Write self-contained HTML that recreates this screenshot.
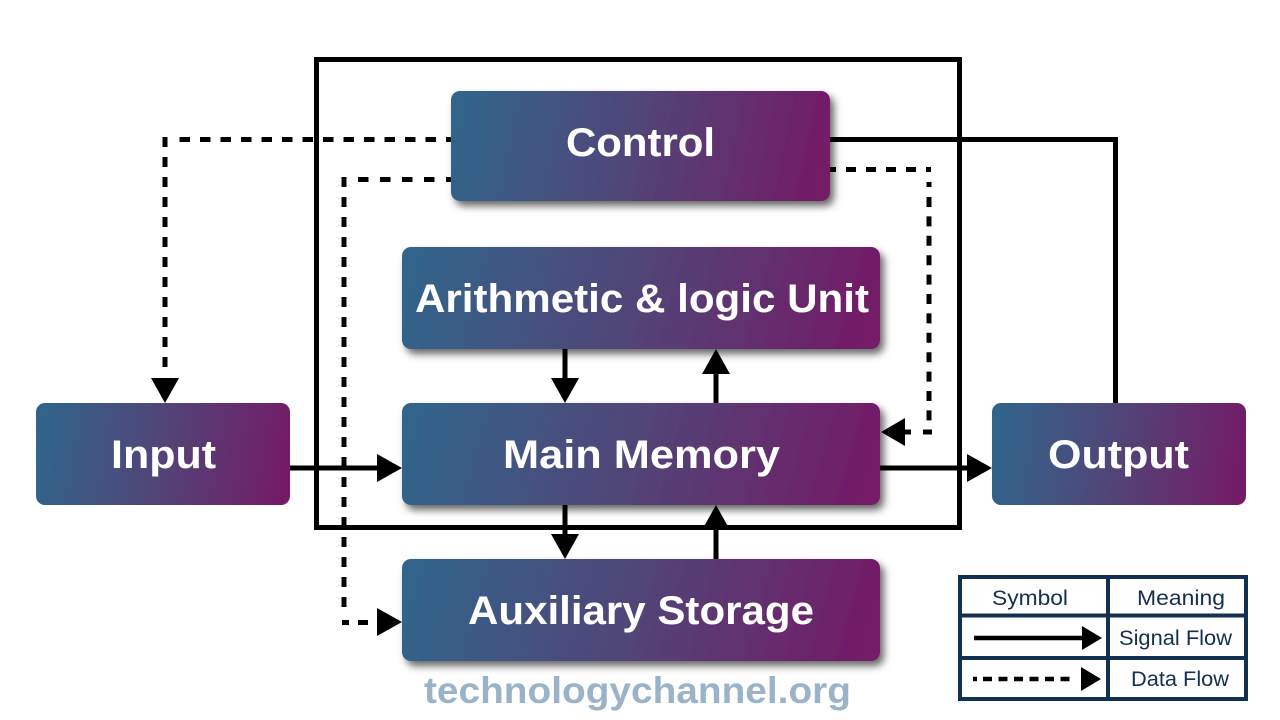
<!DOCTYPE html>
<html><head><meta charset="utf-8"><style>
html,body{margin:0;padding:0;background:#fff;width:1280px;height:720px;overflow:hidden}
svg{display:block}
.n{font-family:"Liberation Sans",sans-serif;font-weight:700;font-size:40px;fill:#fff}
.t{font-family:"Liberation Sans",sans-serif;font-size:21px;fill:#12304f;-webkit-text-stroke:.3px #12304f}
</style></head><body>
<svg xmlns="http://www.w3.org/2000/svg" width="1280" height="720" viewBox="0 0 1280 720">
<defs>
<linearGradient id="g" x1="0" y1="0.47" x2="1" y2="0.53"><stop offset="0" stop-color="#31648a"/><stop offset=".5" stop-color="#524477"/><stop offset="1" stop-color="#741a66"/></linearGradient>
<filter id="s" x="-10%" y="-20%" width="120%" height="145%"><feDropShadow dx="4" dy="5" stdDeviation="4" flood-color="#000" flood-opacity=".6"/></filter>
</defs>
<rect width="1280" height="720" fill="#fff"/>
<rect x="316.5" y="59.5" width="643" height="468" fill="none" stroke="#000" stroke-width="5"/>
<g filter="url(#s)">
<rect x="451" y="91" width="379" height="110" rx="9" fill="url(#g)"/>
<rect x="402" y="247" width="478" height="102" rx="9" fill="url(#g)"/>
<rect x="402" y="403" width="478" height="102" rx="9" fill="url(#g)"/>
<rect x="402" y="559" width="478" height="102" rx="9" fill="url(#g)"/>
</g>
<rect x="36" y="403" width="254" height="102" rx="9" fill="url(#g)"/>
<rect x="992" y="403" width="254" height="102" rx="9" fill="url(#g)"/>
<g fill="none" stroke="#000" stroke-width="5">
<path d="M830 139.5H1115.5V403"/>
<path d="M290 468H378M880 468H968M565 349V379M716 403V373M565 505V535M716 559V529"/>
<path stroke-dasharray="10.5 10" stroke-dashoffset="5.5" d="M451 139.5H178"/>
<path stroke-dasharray="10 10" d="M165 137V368"/>
<path stroke-dasharray="10.5 11.5" stroke-dashoffset="5.5" d="M451 179.5H358"/>
<path stroke-dasharray="10 10" d="M344 177V617"/>
<path d="M342 622.5H349M358 622.5H368"/>
<path d="M830 169.5H836M846 169.5H856M866 169.5H876M886 169.5H896M906 169.5H916M926 169.5H931"/>
<path d="M929 182V187"/>
<path stroke-dasharray="10 9.4" d="M929 197V421"/>
<path d="M923 432H932M903 432H911"/>
</g>
<g fill="#000">
<path d="M151 378H179L165 403Z"/>
<path d="M377 454V482L402 468Z"/>
<path d="M967 454V482L992 468Z"/>
<path d="M551 378H579L565 403Z"/>
<path d="M702 374H730L716 349Z"/>
<path d="M551 534H579L565 559Z"/>
<path d="M702 530H730L716 505Z"/>
<path d="M377 608V636L402 622Z"/>
<path d="M905 418V446L881 432Z"/>
</g>
<text class="n" x="566" y="156" textLength="149" lengthAdjust="spacingAndGlyphs">Control</text>
<text class="n" x="415" y="312" textLength="454" lengthAdjust="spacingAndGlyphs">Arithmetic &amp; logic Unit</text>
<text class="n" x="503" y="468" textLength="277" lengthAdjust="spacingAndGlyphs">Main Memory</text>
<text class="n" x="468" y="624" textLength="346" lengthAdjust="spacingAndGlyphs">Auxiliary Storage</text>
<text class="n" x="111" y="468" textLength="105" lengthAdjust="spacingAndGlyphs">Input</text>
<text class="n" x="1048" y="468" textLength="141" lengthAdjust="spacingAndGlyphs">Output</text>
<text x="424" y="703" textLength="427" lengthAdjust="spacingAndGlyphs" font-family="Liberation Sans, sans-serif" font-weight="700" font-size="37" fill="#9ab3c9">technologychannel.org</text>
<g fill="none" stroke="#12304f" stroke-width="4">
<rect x="960" y="577" width="286" height="122"/>
<path d="M1108 577V699M960 615.5H1246M960 658H1246"/>
</g>
<path d="M974 638H1084" stroke="#000" stroke-width="4.5" fill="none"/>
<path d="M1082 626V650L1102 638Z" fill="#000"/>
<path d="M973 679H1076" stroke="#000" stroke-width="4.5" stroke-dasharray="4 6 9 6.5 9 6.5 9 6.5 9 6.5 9 6.5 9 6.5" fill="none"/>
<path d="M1081 667V691L1101 679Z" fill="#000"/>
<text class="t" x="992" y="605" textLength="76" lengthAdjust="spacingAndGlyphs">Symbol</text>
<text class="t" x="1137" y="605" textLength="88" lengthAdjust="spacingAndGlyphs">Meaning</text>
<text class="t" x="1119" y="645" textLength="113" lengthAdjust="spacingAndGlyphs">Signal Flow</text>
<text class="t" x="1131" y="686" textLength="98" lengthAdjust="spacingAndGlyphs">Data Flow</text>
</svg>
</body></html>
